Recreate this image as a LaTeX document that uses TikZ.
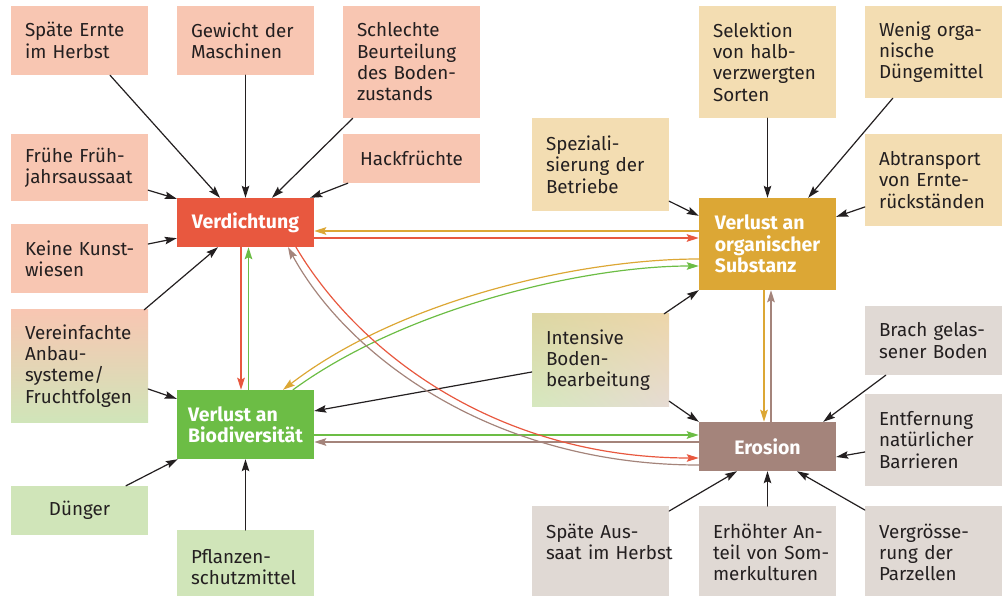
\documentclass[tikz,border=0pt]{standalone}
\usepackage{fontspec}
\setmainfont{Fira Sans}
\usepackage{tikz}
\usetikzlibrary{arrows.meta, shadings}

\definecolor{ink}{HTML}{231F20}
\definecolor{pinkbox}{HTML}{F8C6B2}
\definecolor{verdred}{HTML}{E8583F}
\definecolor{greenbox}{HTML}{D0E5B9}
\definecolor{biogreen}{HTML}{6CBD45}
\definecolor{tanbox}{HTML}{F3DDB2}
\definecolor{orggold}{HTML}{DCA735}
\definecolor{greybox}{HTML}{E0D9D4}
\definecolor{erosbrown}{HTML}{A4847B}

\hyphenpenalty=10000
\exhyphenpenalty=10000

\begin{document}
\begin{tikzpicture}[x=1pt, y=-1pt, line cap=round, line join=round,
    >={Stealth[length=12pt, width=7.5pt, inset=2pt]},
    factor/.style={rectangle, inner xsep=14pt, inner ysep=0pt, text width=109pt,
      align=left, text=ink, font=\fontsize{18.8}{21.3}\selectfont},
    problem/.style={rectangle, inner sep=0pt, minimum width=137pt, align=left,
      text=white, font=\bfseries\fontsize{19.5}{21.3}\selectfont},
    cause/.style={->, line width=1.2pt, ink},
    link/.style={->, line width=1.8pt},
    bend link/.style={->, line width=1.2pt}]
        \useasboundingbox (0,0) rectangle (1005,596);

        % main problems
        \node[problem, fill=verdred, minimum height=49pt, align=center] (verd) at (245.5,222.5) {Verdichtung};
        \node[problem, fill=biogreen, minimum height=69pt] (bio) at (245.5,424.5) {Verlust~an\\Biodiversität};
        \node[problem, fill=orggold, minimum height=92pt] (orgs) at (767.5,244) {Verlust~an\\organischer\\Substanz};
        \node[problem, fill=erosbrown, minimum height=49pt, align=center] (eros) at (767.5,446.5) {Erosion};

        % causes of compaction
        \node[factor, fill=pinkbox, minimum height=69pt] (ernte) at (79.5,40.5) {Späte~Ernte\\im~Herbst};
        \node[factor, fill=pinkbox, minimum height=69pt] (gewicht) at (245.5,40.5) {Gewicht~der\\Maschinen};
        \node[factor, fill=pinkbox, minimum height=112pt] (beurteil) at (411.5,62) {Schlechte\\Beurteilung\\des~Boden-\\zustands};
        \node[factor, fill=pinkbox, minimum height=67pt] (fruehjahr) at (79.5,167.5) {Frühe~Früh-\\jahrsaussaat};
        \node[factor, fill=pinkbox, minimum height=49pt, align=center] (hack) at (411.5,158.5) {Hackfrüchte};
        \node[factor, fill=pinkbox, minimum height=69pt] (kunst) at (79.5,258.5) {Keine~Kunst-\\wiesen};
        \node[factor, top color=pinkbox, bottom color=greenbox, minimum height=112pt] (anbau) at (79.5,366) {Vereinfachte\\Anbau-\\systeme/\\Fruchtfolgen};

        % causes of biodiversity loss
        \node[factor, fill=greenbox, minimum height=49pt, align=center] (duenger) at (79.5,510.5) {Dünger};
        \node[factor, fill=greenbox, anchor=north, inner ysep=19pt, text height=14pt, text depth=14pt] (schutz) at (245.5,530) {Pflanzen-\\schutzmittel};

        % causes of organic matter loss
        \node[factor, fill=tanbox, minimum height=93pt] (spez) at (600.5,164.5) {Speziali-\\sierung~der\\Betriebe};
        \node[factor, fill=tanbox, minimum height=112pt] (selek) at (767.5,62) {Selektion\\von~halb-\\verzwergten\\Sorten};
        \node[factor, fill=tanbox, minimum height=92pt] (wenig) at (933.5,52) {Wenig~orga-\\nische\\Düngemittel};
        \node[factor, fill=tanbox, minimum height=92pt] (abtr) at (933.5,180) {Abtransport\\von~Ernte-\\rückständen};

        % tillage (shared cause)
        \node[factor, shade, upper left={rgb,255:red,221;green,215;blue,163}, upper right={rgb,255:red,237;green,214;blue,170},
          lower left={rgb,255:red,214;green,232;blue,191}, lower right={rgb,255:red,230;green,219;blue,211},
          minimum height=92pt] (boden) at (600.5,360) {Intensive\\Boden-\\bearbeitung};

        % causes of erosion
        \node[factor, fill=greybox, minimum height=69pt] (brach) at (933.5,340.5) {Brach~gelas-\\sener~Boden};
        \node[factor, fill=greybox, minimum height=92pt] (barr) at (933.5,440) {Entfernung\\natürlicher\\Barrieren};
        \node[factor, fill=greybox, anchor=north, inner ysep=18pt, text height=14pt, text depth=40pt] (aussaat) at (600.5,506) {Späte~Aus-\\saat~im~Herbst};
        \node[factor, fill=greybox, anchor=north, inner ysep=18pt, text height=14pt, text depth=40pt] (sommer) at (767.5,506) {Erhöhter~An-\\teil~von~Som-\\merkulturen};
        \node[factor, fill=greybox, anchor=north, inner ysep=18pt, text height=14pt, text depth=40pt] (parz) at (933.5,506) {Vergrösse-\\rung~der\\Parzellen};

        % arrows into compaction
        \draw[cause] ([xshift=30.5pt]ernte.south) -- ([xshift=-25.5pt]verd.north);
        \draw[cause] (gewicht.south) -- (verd.north);
        \draw[cause] ([xshift=10pt]beurteil.south west) -- ([xshift=26.5pt]verd.north);
        \draw[cause] ([xshift=5pt]hack.south west) -- ([xshift=-4pt]verd.north east);
        \draw[cause] ([yshift=11pt]fruehjahr.south east) -- ([yshift=-1pt]verd.north west);
        \draw[cause] ([yshift=14.5pt]kunst.east) -- ([yshift=9pt]verd.south west);
        \draw[cause] ([xshift=-4pt]anbau.north east) -- ([xshift=-27.5pt]verd.south);

        % arrows into biodiversity loss
        \draw[cause] ([yshift=-23pt]anbau.east) -- ([yshift=-9pt]bio.north west);
        \draw[cause] ([xshift=46.5pt]duenger.north) -- ([xshift=1pt]bio.south west);
        \draw[cause] (schutz.north) -- (bio.south);
        \draw[cause] ([yshift=-12pt]boden.west) -- ([yshift=13.5pt]bio.east);

        % arrows into organic matter loss
        \draw[cause] ([yshift=10pt]spez.south east) -- ([yshift=-18pt]orgs.north west);
        \draw[cause] (selek.south) -- (orgs.north);
        \draw[cause] ([xshift=28pt]wenig.south west) -- ([xshift=-28pt]orgs.north east);
        \draw[cause] ([yshift=-27pt]abtr.west) -- ([yshift=-19pt]orgs.north east);
        \draw[cause] ([xshift=-5pt]boden.north east) -- (orgs.south west);

        % arrows into erosion
        \draw[cause] ([yshift=5pt]boden.south east) -- (eros.north west);
        \draw[cause] ([xshift=21pt]brach.south west) -- ([xshift=-13pt]eros.north east);
        \draw[cause] ([yshift=-12pt]barr.west) -- ([yshift=-10.5pt]eros.east);
        \draw[cause] ([yshift=-5pt]aussaat.north east) -- ([xshift=-30.5pt]eros.south);
        \draw[cause] (sommer.north) -- (eros.south);
        \draw[cause] ([yshift=-4pt]parz.north west) -- ([xshift=29.5pt]eros.south);

        % links between the problems
        \draw[link, orggold] ([yshift=13pt]orgs.west) coordinate (og) -- (og -| verd.east);
        \draw[link, verdred] ([yshift=-15.5pt]verd.east) coordinate (vr) -- (vr -| orgs.west);
        \draw[link, verdred] ([xshift=-4.5pt]verd.south) coordinate (vd) -- (vd |- bio.north);
        \draw[link, biogreen] ([xshift=3pt]bio.north) coordinate (bu) -- (bu |- verd.south);
        \draw[link, biogreen] ([yshift=11.5pt]eros.west) coordinate (eg) (eg -| bio.east) -- (eg);
        \draw[link, erosbrown] ([yshift=4.5pt]eros.west) coordinate (eb) -- (eb -| bio.east);
        \draw[link, orggold] ([xshift=-3.5pt]orgs.south) coordinate (od) -- (od |- eros.north);
        \draw[link, erosbrown] ([xshift=3.5pt]eros.north) coordinate (eu) -- (eu |- orgs.south);

        % curved links
        \draw[bend link, orggold] ([yshift=-15pt]orgs.west) .. controls +(-119,0) and +(117,-90) .. ([xshift=37.5pt]bio.north);
        \draw[bend link, biogreen] ([xshift=47.5pt]bio.north) .. controls +(112,-82) and +(-114,0) .. ([yshift=-22pt]orgs.west);
        \draw[bend link, verdred] ([xshift=50.5pt]verd.south) .. controls +(64,108) and +(-199,0) .. ([yshift=-11.5pt]eros.west);
        \draw[bend link, erosbrown] ([yshift=-18.5pt]eros.west) .. controls +(-205,0) and +(60,110) .. ([xshift=42.5pt]verd.south);
    \end{tikzpicture}
\end{document}
